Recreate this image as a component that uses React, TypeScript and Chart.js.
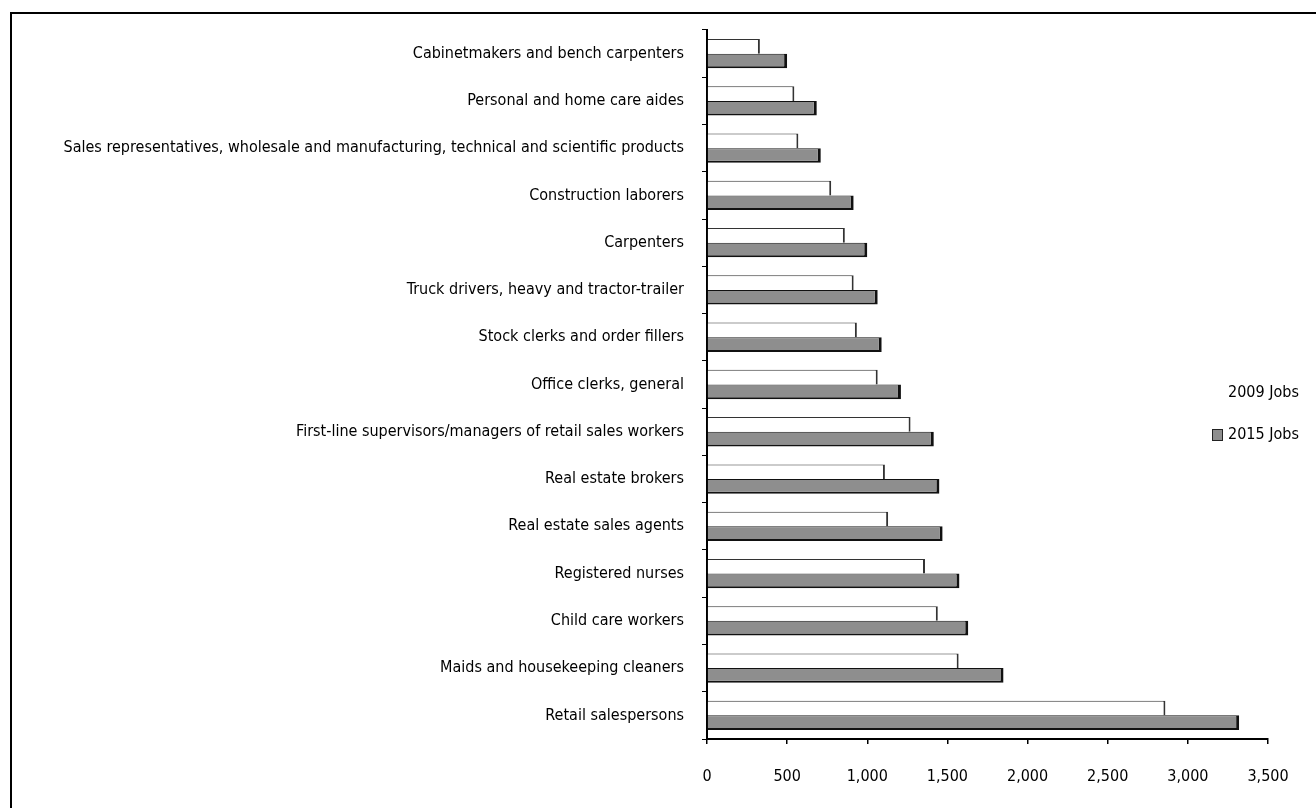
import React, { useEffect, useRef } from "react";
import { Chart, registerables } from "chart.js";

Chart.register(...registerables);

const categories = [
  "Cabinetmakers and bench carpenters",
  "Personal and home care aides",
  "Sales representatives, wholesale and manufacturing, technical and scientific products",
  "Construction laborers",
  "Carpenters",
  "Truck drivers, heavy and tractor-trailer",
  "Stock clerks and order fillers",
  "Office clerks, general",
  "First-line supervisors/managers of retail sales workers",
  "Real estate brokers",
  "Real estate sales agents",
  "Registered nurses",
  "Child care workers",
  "Maids and housekeeping cleaners",
  "Retail salespersons",
];

const jobs2009 = [330, 545, 570, 775, 860, 915, 935, 1065, 1270, 1110, 1130, 1360, 1440, 1570, 2860];
const jobs2015 = [500, 685, 710, 915, 1000, 1065, 1090, 1210, 1415, 1450, 1470, 1575, 1630, 1850, 3320];

const seriesLabels = ["2009 Jobs", "2015 Jobs"];
const xTicks = [0, 500, 1000, 1500, 2000, 2500, 3000, 3500];

const FONT = "'Liberation Sans Narrow', 'DejaVu Sans Condensed', sans-serif";

const legendPlugin = {
  id: "customLegend",
  afterDraw(chart: any) {
    const ctx = chart.ctx;
    ctx.save();
    ctx.font = `16px ${FONT}`;
    ctx.textBaseline = "middle";
    const ys = [393, 435];
    chart.data.datasets.forEach((ds: any, i: number) => {
      const y = ys[i];
      ctx.fillStyle = ds.backgroundColor;
      ctx.fillRect(1212, y - 6, 11, 12);
      if (i === 1) {
        ctx.strokeStyle = "#222";
        ctx.lineWidth = 1;
        ctx.strokeRect(1212.5, y - 5.5, 10, 11);
      }
      ctx.fillStyle = "#000";
      ctx.fillText(ds.label, 1228, y);
    });
    ctx.restore();
  },
};

export default function App() {
  const ref = useRef<HTMLCanvasElement>(null);
  useEffect(() => {
    if (!ref.current) return;
    const chart = new Chart(ref.current, {
      type: "bar",
      data: {
        labels: categories,
        datasets: [
          {
            label: seriesLabels[0],
            data: jobs2009,
            backgroundColor: "#ffffff",
            borderColor: "#333333",
            borderWidth: { top: 1, right: 2, bottom: 0, left: 0 },
            borderSkipped: false,
          },
          {
            label: seriesLabels[1],
            data: jobs2015,
            backgroundColor: "#8e8e8e",
            borderColor: "#111111",
            borderWidth: { top: 1, right: 3, bottom: 2, left: 0 },
            borderSkipped: false,
          },
        ],
      },
      options: {
        indexAxis: "y",
        animation: false,
        responsive: false,
        maintainAspectRatio: false,
        layout: { padding: { top: 30, right: 48, left: 0, bottom: 0 } },
        datasets: { bar: { categoryPercentage: 0.62, barPercentage: 1.0 } },
        plugins: {
          legend: { display: false },
          tooltip: { enabled: false },
        },
        scales: {
          x: {
            min: 0,
            max: 3500,
            afterBuildTicks(scale: any) {
              scale.ticks = xTicks.map((v) => ({ value: v }));
            },
            afterFit(scale: any) {
              scale.height = 69;
            },
            border: { display: true, color: "#000", width: 2 },
            grid: { display: true, drawOnChartArea: false, drawTicks: true, tickLength: 5, color: "#000", lineWidth: 1.5 },
            ticks: {
              color: "#000",
              font: { family: FONT, size: 16 },
              padding: 23,
              callback: (v: any) => Number(v).toLocaleString("en-US"),
            },
          },
          y: {
            afterFit(scale: any) {
              scale.width = 707;
            },
            border: { display: true, color: "#000", width: 2 },
            grid: { display: true, drawOnChartArea: false, drawTicks: true, tickLength: 5, color: "#000", lineWidth: 1, offset: true },
            ticks: {
              color: "#000",
              font: { family: FONT, size: 16 },
              padding: 18,
              autoSkip: false,
            },
          },
        },
      },
      plugins: [legendPlugin],
    });
    return () => chart.destroy();
  }, []);
  return (
    <div style={{ position: "fixed", left: 0, top: 0, width: 1316, height: 808, background: "#fff" }}>
      <div
        style={{
          position: "absolute",
          left: 10,
          top: 12,
          width: 1320,
          height: 810,
          borderTop: "2px solid #000",
          borderLeft: "2px solid #000",
          boxSizing: "border-box",
        }}
      />
      <canvas ref={ref} width={1316} height={808} style={{ position: "absolute", left: 0, top: 0 }} />
    </div>
  );
}
